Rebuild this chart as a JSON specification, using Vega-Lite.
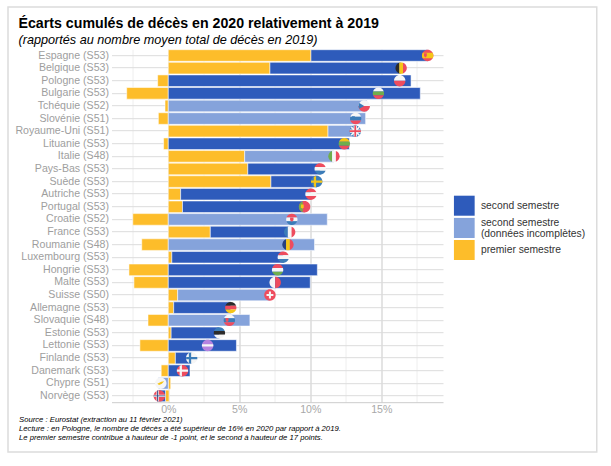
{"$schema":"https://vega.github.io/schema/vega-lite/v6.json","width":331.5,"height":353,"autosize":{"type":"none"},"padding":{"left":111.5,"top":49.2,"right":168,"bottom":63.8},"background":"white","config":{"view":{"stroke":null},"font":"Liberation Sans"},
"title":{"text":"Écarts cumulés de décès en 2020 relativement à 2019","subtitle":"(rapportés au nombre moyen total de décès en 2019)","anchor":"start","frame":"group","dx":-93,"offset":-40,"font":"Liberation Sans","fontSize":14.2,"fontWeight":"bold","color":"#000","subtitleFont":"Liberation Sans","subtitleFontSize":12.66,"subtitleFontStyle":"italic","subtitleColor":"#000","subtitlePadding":2},
"datasets":{"barres":[
{"pays":"Espagne (S53)","serie":"premier semestre","debut":0,"fin":10.05},{"pays":"Espagne (S53)","serie":"second semestre","debut":10.05,"fin":18.27},
{"pays":"Belgique (S53)","serie":"premier semestre","debut":0,"fin":7.16},{"pays":"Belgique (S53)","serie":"second semestre","debut":7.16,"fin":16.4},
{"pays":"Pologne (S53)","serie":"premier semestre","debut":-0.75,"fin":0},{"pays":"Pologne (S53)","serie":"second semestre","debut":0,"fin":17.1},
{"pays":"Bulgarie (S53)","serie":"premier semestre","debut":-2.93,"fin":0},{"pays":"Bulgarie (S53)","serie":"second semestre","debut":0,"fin":17.75},
{"pays":"Tchéquie (S52)","serie":"premier semestre","debut":-0.23,"fin":0},{"pays":"Tchéquie (S52)","serie":"second semestre (données incomplètes)","debut":0,"fin":14.0},
{"pays":"Slovénie (S51)","serie":"premier semestre","debut":-0.7,"fin":0},{"pays":"Slovénie (S51)","serie":"second semestre (données incomplètes)","debut":0,"fin":13.9},
{"pays":"Royaume-Uni (S51)","serie":"premier semestre","debut":0,"fin":11.25},{"pays":"Royaume-Uni (S51)","serie":"second semestre (données incomplètes)","debut":11.25,"fin":13.17},
{"pays":"Lituanie (S53)","serie":"premier semestre","debut":-0.33,"fin":0},{"pays":"Lituanie (S53)","serie":"second semestre","debut":0,"fin":12.75},
{"pays":"Italie (S48)","serie":"premier semestre","debut":0,"fin":5.38},{"pays":"Italie (S48)","serie":"second semestre (données incomplètes)","debut":5.38,"fin":11.67},
{"pays":"Pays-Bas (S53)","serie":"premier semestre","debut":0,"fin":5.6},{"pays":"Pays-Bas (S53)","serie":"second semestre","debut":5.6,"fin":10.7},
{"pays":"Suède (S53)","serie":"premier semestre","debut":0,"fin":7.23},{"pays":"Suède (S53)","serie":"second semestre","debut":7.23,"fin":10.45},
{"pays":"Autriche (S53)","serie":"premier semestre","debut":0,"fin":0.87},{"pays":"Autriche (S53)","serie":"second semestre","debut":0.87,"fin":10.05},
{"pays":"Portugal (S53)","serie":"premier semestre","debut":0,"fin":1.0},{"pays":"Portugal (S53)","serie":"second semestre","debut":1.0,"fin":9.6},
{"pays":"Croatie (S52)","serie":"premier semestre","debut":-2.5,"fin":0},{"pays":"Croatie (S52)","serie":"second semestre (données incomplètes)","debut":0,"fin":11.2},
{"pays":"France (S53)","serie":"premier semestre","debut":0,"fin":2.96},{"pays":"France (S53)","serie":"second semestre","debut":2.96,"fin":8.55},
{"pays":"Roumanie (S48)","serie":"premier semestre","debut":-1.87,"fin":0},{"pays":"Roumanie (S48)","serie":"second semestre (données incomplètes)","debut":0,"fin":10.3},
{"pays":"Luxembourg (S53)","serie":"premier semestre","debut":0,"fin":0.25},{"pays":"Luxembourg (S53)","serie":"second semestre","debut":0.25,"fin":8.1},
{"pays":"Hongrie (S53)","serie":"premier semestre","debut":-2.77,"fin":0},{"pays":"Hongrie (S53)","serie":"second semestre","debut":0,"fin":10.5},
{"pays":"Malte (S53)","serie":"premier semestre","debut":-2.42,"fin":0},{"pays":"Malte (S53)","serie":"second semestre","debut":0,"fin":10.0},
{"pays":"Suisse (S50)","serie":"premier semestre","debut":0,"fin":0.66},{"pays":"Suisse (S50)","serie":"second semestre (données incomplètes)","debut":0.66,"fin":7.16},
{"pays":"Allemagne (S53)","serie":"premier semestre","debut":0,"fin":0.38},{"pays":"Allemagne (S53)","serie":"second semestre","debut":0.38,"fin":4.4},
{"pays":"Slovaquie (S48)","serie":"premier semestre","debut":-1.43,"fin":0},{"pays":"Slovaquie (S48)","serie":"second semestre (données incomplètes)","debut":0,"fin":5.75},
{"pays":"Estonie (S53)","serie":"premier semestre","debut":0,"fin":0.2},{"pays":"Estonie (S53)","serie":"second semestre","debut":0.2,"fin":3.6},
{"pays":"Lettonie (S53)","serie":"premier semestre","debut":-2.0,"fin":0},{"pays":"Lettonie (S53)","serie":"second semestre","debut":0,"fin":4.8},
{"pays":"Finlande (S53)","serie":"premier semestre","debut":0,"fin":0.5},{"pays":"Finlande (S53)","serie":"second semestre","debut":0.5,"fin":1.65},
{"pays":"Danemark (S53)","serie":"premier semestre","debut":-0.5,"fin":0},{"pays":"Danemark (S53)","serie":"second semestre","debut":0,"fin":1.53},
{"pays":"Chypre (S51)","serie":"premier semestre","debut":0,"fin":0.17},{"pays":"Chypre (S51)","serie":"second semestre (données incomplètes)","debut":-0.7,"fin":0},
{"pays":"Norvège (S53)","serie":"premier semestre","debut":-0.2,"fin":0.05},{"pays":"Norvège (S53)","serie":"second semestre","debut":-0.75,"fin":-0.2}
],
"drapeaux":[
{"pays":"Espagne (S53)","net":18.27,"motif":"disque","teinte":"rouge"},{"pays":"Espagne (S53)","net":18.27,"motif":"bandeLarge","teinte":"jaune"},{"pays":"Espagne (S53)","net":18.27,"motif":"blason","teinte":"rouge"},
{"pays":"Belgique (S53)","net":16.4,"motif":"gauche3","teinte":"noir"},{"pays":"Belgique (S53)","net":16.4,"motif":"centre3","teinte":"jaune"},{"pays":"Belgique (S53)","net":16.4,"motif":"droite3","teinte":"rouge"},
{"pays":"Pologne (S53)","net":16.3,"motif":"haut2","teinte":"blanc"},{"pays":"Pologne (S53)","net":16.3,"motif":"bas2","teinte":"rouge"},
{"pays":"Bulgarie (S53)","net":14.8,"motif":"haut3","teinte":"blanc"},{"pays":"Bulgarie (S53)","net":14.8,"motif":"milieu3","teinte":"vert"},{"pays":"Bulgarie (S53)","net":14.8,"motif":"bas3","teinte":"rouge"},
{"pays":"Tchéquie (S52)","net":13.8,"motif":"haut2","teinte":"blanc"},{"pays":"Tchéquie (S52)","net":13.8,"motif":"bas2","teinte":"rouge"},{"pays":"Tchéquie (S52)","net":13.8,"motif":"triangle","teinte":"bleu"},
{"pays":"Slovénie (S51)","net":13.2,"motif":"haut3","teinte":"blanc"},{"pays":"Slovénie (S51)","net":13.2,"motif":"milieu3","teinte":"bleu"},{"pays":"Slovénie (S51)","net":13.2,"motif":"bas3","teinte":"rouge"},{"pays":"Slovénie (S51)","net":13.2,"motif":"blason","teinte":"bleu"},
{"pays":"Royaume-Uni (S51)","net":13.17,"motif":"disque","teinte":"bleu"},{"pays":"Royaume-Uni (S51)","net":13.17,"motif":"diagonales","teinte":"blanc"},{"pays":"Royaume-Uni (S51)","net":13.17,"motif":"croixLarge","teinte":"blanc"},{"pays":"Royaume-Uni (S51)","net":13.17,"motif":"croixEtroite","teinte":"rouge"},
{"pays":"Lituanie (S53)","net":12.4,"motif":"haut3","teinte":"jaune"},{"pays":"Lituanie (S53)","net":12.4,"motif":"milieu3","teinte":"vert"},{"pays":"Lituanie (S53)","net":12.4,"motif":"bas3","teinte":"rouge"},
{"pays":"Italie (S48)","net":11.67,"motif":"gauche3","teinte":"vert"},{"pays":"Italie (S48)","net":11.67,"motif":"centre3","teinte":"blanc"},{"pays":"Italie (S48)","net":11.67,"motif":"droite3","teinte":"rouge"},
{"pays":"Pays-Bas (S53)","net":10.7,"motif":"haut3","teinte":"rouge"},{"pays":"Pays-Bas (S53)","net":10.7,"motif":"milieu3","teinte":"blanc"},{"pays":"Pays-Bas (S53)","net":10.7,"motif":"bas3","teinte":"bleu"},
{"pays":"Suède (S53)","net":10.45,"motif":"disque","teinte":"bleu"},{"pays":"Suède (S53)","net":10.45,"motif":"croixNord","teinte":"jaune"},
{"pays":"Autriche (S53)","net":10.05,"motif":"haut3","teinte":"rouge"},{"pays":"Autriche (S53)","net":10.05,"motif":"milieu3","teinte":"blanc"},{"pays":"Autriche (S53)","net":10.05,"motif":"bas3","teinte":"rouge"},
{"pays":"Portugal (S53)","net":9.6,"motif":"disque","teinte":"rouge"},{"pays":"Portugal (S53)","net":9.6,"motif":"gauche3","teinte":"vert"},{"pays":"Portugal (S53)","net":9.6,"motif":"blason","teinte":"jaune"},
{"pays":"Croatie (S52)","net":8.7,"motif":"haut3","teinte":"rouge"},{"pays":"Croatie (S52)","net":8.7,"motif":"milieu3","teinte":"blanc"},{"pays":"Croatie (S52)","net":8.7,"motif":"bas3","teinte":"bleu"},{"pays":"Croatie (S52)","net":8.7,"motif":"ecu","teinte":"rouge"},
{"pays":"France (S53)","net":8.55,"motif":"gauche3","teinte":"bleu"},{"pays":"France (S53)","net":8.55,"motif":"centre3","teinte":"blanc"},{"pays":"France (S53)","net":8.55,"motif":"droite3","teinte":"rouge"},
{"pays":"Roumanie (S48)","net":8.43,"motif":"gauche3","teinte":"marine"},{"pays":"Roumanie (S48)","net":8.43,"motif":"centre3","teinte":"jaune"},{"pays":"Roumanie (S48)","net":8.43,"motif":"droite3","teinte":"rouge"},
{"pays":"Luxembourg (S53)","net":8.1,"motif":"haut3","teinte":"rouge"},{"pays":"Luxembourg (S53)","net":8.1,"motif":"milieu3","teinte":"blanc"},{"pays":"Luxembourg (S53)","net":8.1,"motif":"bas3","teinte":"bleu"},
{"pays":"Hongrie (S53)","net":7.7,"motif":"haut3","teinte":"rouge"},{"pays":"Hongrie (S53)","net":7.7,"motif":"milieu3","teinte":"blanc"},{"pays":"Hongrie (S53)","net":7.7,"motif":"bas3","teinte":"vert"},
{"pays":"Malte (S53)","net":7.53,"motif":"gauche2","teinte":"blanc"},{"pays":"Malte (S53)","net":7.53,"motif":"droite2","teinte":"rouge"},
{"pays":"Suisse (S50)","net":7.16,"motif":"disque","teinte":"rouge"},{"pays":"Suisse (S50)","net":7.16,"motif":"croixSuisse","teinte":"blanc"},
{"pays":"Allemagne (S53)","net":4.4,"motif":"haut3","teinte":"noir"},{"pays":"Allemagne (S53)","net":4.4,"motif":"milieu3","teinte":"rouge"},{"pays":"Allemagne (S53)","net":4.4,"motif":"bas3","teinte":"jaune"},
{"pays":"Slovaquie (S48)","net":4.3,"motif":"haut3","teinte":"blanc"},{"pays":"Slovaquie (S48)","net":4.3,"motif":"milieu3","teinte":"bleu"},{"pays":"Slovaquie (S48)","net":4.3,"motif":"bas3","teinte":"rouge"},{"pays":"Slovaquie (S48)","net":4.3,"motif":"blason","teinte":"rouge"},
{"pays":"Estonie (S53)","net":3.6,"motif":"haut3","teinte":"bleu"},{"pays":"Estonie (S53)","net":3.6,"motif":"milieu3","teinte":"noir"},{"pays":"Estonie (S53)","net":3.6,"motif":"bas3","teinte":"blanc"},
{"pays":"Lettonie (S53)","net":2.77,"motif":"disque","teinte":"violet"},{"pays":"Lettonie (S53)","net":2.77,"motif":"bandeFine","teinte":"blanc"},
{"pays":"Finlande (S53)","net":1.65,"motif":"disque","teinte":"blanc"},{"pays":"Finlande (S53)","net":1.65,"motif":"croixNord","teinte":"bleu"},
{"pays":"Danemark (S53)","net":1.0,"motif":"disque","teinte":"rouge"},{"pays":"Danemark (S53)","net":1.0,"motif":"croixNord","teinte":"blanc"},
{"pays":"Chypre (S51)","net":-0.53,"motif":"disque","teinte":"blanc"},{"pays":"Chypre (S51)","net":-0.53,"motif":"ile","teinte":"jaune"},
{"pays":"Norvège (S53)","net":-0.63,"motif":"disque","teinte":"rouge"},{"pays":"Norvège (S53)","net":-0.63,"motif":"croixNord","teinte":"blanc"},{"pays":"Norvège (S53)","net":-0.63,"motif":"croixFine","teinte":"marine"}
]},
"resolve":{"scale":{"y":"independent","color":"independent"},"axis":{"y":"independent"}},
"layer":[
{"data":{"values":[{"cadre":"page"}]},"mark":{"type":"rect","fillOpacity":0,"stroke":"#dcdcdc","strokeWidth":1.5,"clip":false},
"encoding":{"x":{"datum":-11.29,"scale":{"domain":[-4,19.35],"nice":false,"zero":false},"type":"quantitative"},"x2":{"datum":30.18},"y":{"datum":1.1195,"type":"quantitative","scale":{"domain":[0,1],"nice":false,"zero":false},"axis":null},"y2":{"datum":-0.141}}},
{"data":{"name":"barres"},"mark":{"type":"bar","height":11.6,"stroke":"white","strokeOpacity":0.55,"strokeWidth":1},
"encoding":{"y":{"field":"pays","type":"nominal","sort":null,"title":null,"scale":{"paddingInner":0,"paddingOuter":0},
"axis":{"domain":false,"ticks":false,"labelPadding":3,"labelColor":"#9e9e9e","labelFontSize":10.6,"labelFont":"Liberation Sans","grid":true,"gridColor":"#dcdcdc","gridWidth":1,"labelLimit":200}},
"x":{"field":"debut","type":"quantitative","scale":{"domain":[-4,19.35],"nice":false,"zero":false},"title":["Source : Eurostat (extraction au 11 février 2021)","Lecture : en Pologne, le nombre de décès a été supérieur de 16% en 2020 par rapport à 2019.","Le premier semestre contribue à hauteur de -1 point, et le second à hauteur de 17 points."],
"axis":{"values":[-2.5,0,2.5,5,7.5,10,12.5,15,17.5],"labelExpr":"datum.value % 5 == 0 ? datum.value + '%' : ''","labelColor":"#a8a8a8","labelFontSize":10.6,"labelFont":"Liberation Sans","labelPadding":2,"labelFlush":false,"ticks":false,"domain":true,"domainColor":"#cccccc","domainWidth":1,"grid":true,"gridColor":{"condition":{"test":"datum.value % 5 == 0","value":"#c9c9c9"},"value":"#eeeeee"},"gridWidth":1,"titleFont":"Liberation Sans","titleFontSize":7.7,"titleFontStyle":"italic","titleFontWeight":"normal","titleColor":"#000","titleAlign":"left","titleAnchor":"start","titleBaseline":"top","titleX":-93,"titleY":13,"titleLineHeight":9}},
"x2":{"field":"fin"},
"color":{"field":"serie","type":"nominal","legend":null,"scale":{"domain":["second semestre","second semestre (données incomplètes)","premier semestre"],"range":["#2e5bbb","#85a3db","#fdbd2a"]}}}},
{"data":{"name":"drapeaux"},"mark":{"type":"point","filled":true,"opacity":1,"size":130,"strokeWidth":0},
"encoding":{"y":{"field":"pays","type":"nominal","sort":null,"title":null,"scale":{"domain":["Espagne (S53)","Belgique (S53)","Pologne (S53)","Bulgarie (S53)","Tchéquie (S52)","Slovénie (S51)","Royaume-Uni (S51)","Lituanie (S53)","Italie (S48)","Pays-Bas (S53)","Suède (S53)","Autriche (S53)","Portugal (S53)","Croatie (S52)","France (S53)","Roumanie (S48)","Luxembourg (S53)","Hongrie (S53)","Malte (S53)","Suisse (S50)","Allemagne (S53)","Slovaquie (S48)","Estonie (S53)","Lettonie (S53)","Finlande (S53)","Danemark (S53)","Chypre (S51)","Norvège (S53)"],"paddingInner":0,"paddingOuter":0},"axis":null},
"x":{"field":"net","type":"quantitative"},
"color":{"field":"teinte","type":"nominal","legend":null,"scale":{"domain":["rouge","blanc","bleu","marine","vert","jaune","noir","violet"],"range":["#ee4c5e","#f6f6f6","#3b7cb8","#27407f","#6fae4c","#f5c518","#2b2b2b","#b583e0"]}},
"shape":{"field":"motif","type":"nominal","legend":null,"scale":{"domain":["disque","haut3","milieu3","bas3","gauche3","centre3","droite3","haut2","bas2","gauche2","droite2","triangle","croixNord","croixFine","croixLarge","croixEtroite","diagonales","croixSuisse","blason","ecu","ile","bandeLarge","bandeFine"],
"range":["M-1,0A1,1 0 1 1 1,0A1,1 0 1 1 -1,0Z","M-0.943,-0.333A1,1 0 0 1 0.943,-0.333Z","M-0.943,-0.333L0.943,-0.333A1,1 0 0 1 0.943,0.333L-0.943,0.333A1,1 0 0 1 -0.943,-0.333Z","M0.943,0.333A1,1 0 0 1 -0.943,0.333Z","M-0.333,0.943A1,1 0 0 1 -0.333,-0.943Z","M-0.333,-0.943A1,1 0 0 1 0.333,-0.943L0.333,0.943A1,1 0 0 1 -0.333,0.943Z","M0.333,-0.943A1,1 0 0 1 0.333,0.943Z","M-1,0A1,1 0 0 1 1,0Z","M1,0A1,1 0 0 1 -1,0Z","M0,1A1,1 0 0 1 0,-1Z","M0,-1A1,1 0 0 1 0,1Z","M-0.866,-0.5L0,0L-0.866,0.5A1,1 0 0 1 -0.866,-0.5Z","M-0.5,-0.86L-0.1,-0.99L-0.1,-0.2L0.98,-0.2L0.98,0.2L-0.1,0.2L-0.1,0.99L-0.5,0.86L-0.5,0.2L-0.98,0.2L-0.98,-0.2L-0.5,-0.2Z","M-0.38,-0.92L-0.22,-0.97L-0.22,-0.08L1,-0.08L1,0.08L-0.22,0.08L-0.22,0.97L-0.38,0.92L-0.38,0.08L-1,0.08L-1,-0.08L-0.38,-0.08Z","M-0.3,-0.95L0.3,-0.95L0.3,-0.3L0.95,-0.3L0.95,0.3L0.3,0.3L0.3,0.95L-0.3,0.95L-0.3,0.3L-0.95,0.3L-0.95,-0.3L-0.3,-0.3Z","M-0.15,-0.99L0.15,-0.99L0.15,-0.15L0.99,-0.15L0.99,0.15L0.15,0.15L0.15,0.99L-0.15,0.99L-0.15,0.15L-0.99,0.15L-0.99,-0.15L-0.15,-0.15Z","M-0.8,-0.6L-0.6,-0.8L0,-0.2L0.6,-0.8L0.8,-0.6L0.2,0L0.8,0.6L0.6,0.8L0,0.2L-0.6,0.8L-0.8,0.6L-0.2,0Z","M-0.18,-0.6L0.18,-0.6L0.18,-0.18L0.6,-0.18L0.6,0.18L0.18,0.18L0.18,0.6L-0.18,0.6L-0.18,0.18L-0.6,0.18L-0.6,-0.18L-0.18,-0.18Z","M-0.65,-0.4L-0.15,-0.4L-0.15,0.1L-0.4,0.35L-0.65,0.1Z","M-0.3,-0.35L0.3,-0.35L0.3,0.15L0,0.4L-0.3,0.15Z","M-0.6,0.1L0.1,-0.25L0.6,-0.35L0.2,0.1L-0.3,0.3Z","M-0.866,-0.5L0.866,-0.5A1,1 0 0 1 0.866,0.5L-0.866,0.5A1,1 0 0 1 -0.866,-0.5Z","M-0.98,-0.2L0.98,-0.2A1,1 0 0 1 0.98,0.2L-0.98,0.2A1,1 0 0 1 -0.98,-0.2Z"]}}}},
{"data":{"values":[{"serie":"second semestre"}]},"mark":{"type":"rect","clip":false},"encoding":{"x":{"datum":20.12,"type":"quantitative"},"x2":{"datum":21.58},"y":{"datum":0.585,"type":"quantitative","scale":{"domain":[0,1],"nice":false,"zero":false},"axis":null},"y2":{"datum":0.5283},"color":{"field":"serie","type":"nominal","legend":null,"scale":{"domain":["second semestre","second semestre (données incomplètes)","premier semestre"],"range":["#2e5bbb","#85a3db","#fdbd2a"]}}}},
{"data":{"values":[{"serie":"second semestre (données incomplètes)"}]},"mark":{"type":"rect","clip":false},"encoding":{"x":{"datum":20.12,"type":"quantitative"},"x2":{"datum":21.58},"y":{"datum":0.5221,"type":"quantitative","scale":{"domain":[0,1],"nice":false,"zero":false},"axis":null},"y2":{"datum":0.4652},"color":{"field":"serie","type":"nominal","legend":null,"scale":{"domain":["second semestre","second semestre (données incomplètes)","premier semestre"],"range":["#2e5bbb","#85a3db","#fdbd2a"]}}}},
{"data":{"values":[{"serie":"premier semestre"}]},"mark":{"type":"rect","clip":false},"encoding":{"x":{"datum":20.12,"type":"quantitative"},"x2":{"datum":21.58},"y":{"datum":0.4595,"type":"quantitative","scale":{"domain":[0,1],"nice":false,"zero":false},"axis":null},"y2":{"datum":0.4028},"color":{"field":"serie","type":"nominal","legend":null,"scale":{"domain":["second semestre","second semestre (données incomplètes)","premier semestre"],"range":["#2e5bbb","#85a3db","#fdbd2a"]}}}},
{"data":{"values":[{"libelle":"second semestre"}]},"mark":{"type":"text","align":"left","baseline":"middle","font":"Liberation Sans","fontSize":10.3,"color":"#333","clip":false},"encoding":{"x":{"datum":22.02,"type":"quantitative"},"y":{"datum":0.5558,"type":"quantitative","scale":{"domain":[0,1],"nice":false,"zero":false},"axis":null},"text":{"field":"libelle"}}},
{"data":{"values":[{"libelle":"second semestre"}]},"mark":{"type":"text","align":"left","baseline":"middle","font":"Liberation Sans","fontSize":10.3,"color":"#333","clip":false},"encoding":{"x":{"datum":22.02,"type":"quantitative"},"y":{"datum":0.5074,"type":"quantitative","scale":{"domain":[0,1],"nice":false,"zero":false},"axis":null},"text":{"field":"libelle"}}},
{"data":{"values":[{"libelle":"(données incomplètes)"}]},"mark":{"type":"text","align":"left","baseline":"middle","font":"Liberation Sans","fontSize":10.3,"color":"#333","clip":false},"encoding":{"x":{"datum":22.02,"type":"quantitative"},"y":{"datum":0.4771,"type":"quantitative","scale":{"domain":[0,1],"nice":false,"zero":false},"axis":null},"text":{"field":"libelle"}}},
{"data":{"values":[{"libelle":"premier semestre"}]},"mark":{"type":"text","align":"left","baseline":"middle","font":"Liberation Sans","fontSize":10.3,"color":"#333","clip":false},"encoding":{"x":{"datum":22.02,"type":"quantitative"},"y":{"datum":0.4303,"type":"quantitative","scale":{"domain":[0,1],"nice":false,"zero":false},"axis":null},"text":{"field":"libelle"}}}
]}
